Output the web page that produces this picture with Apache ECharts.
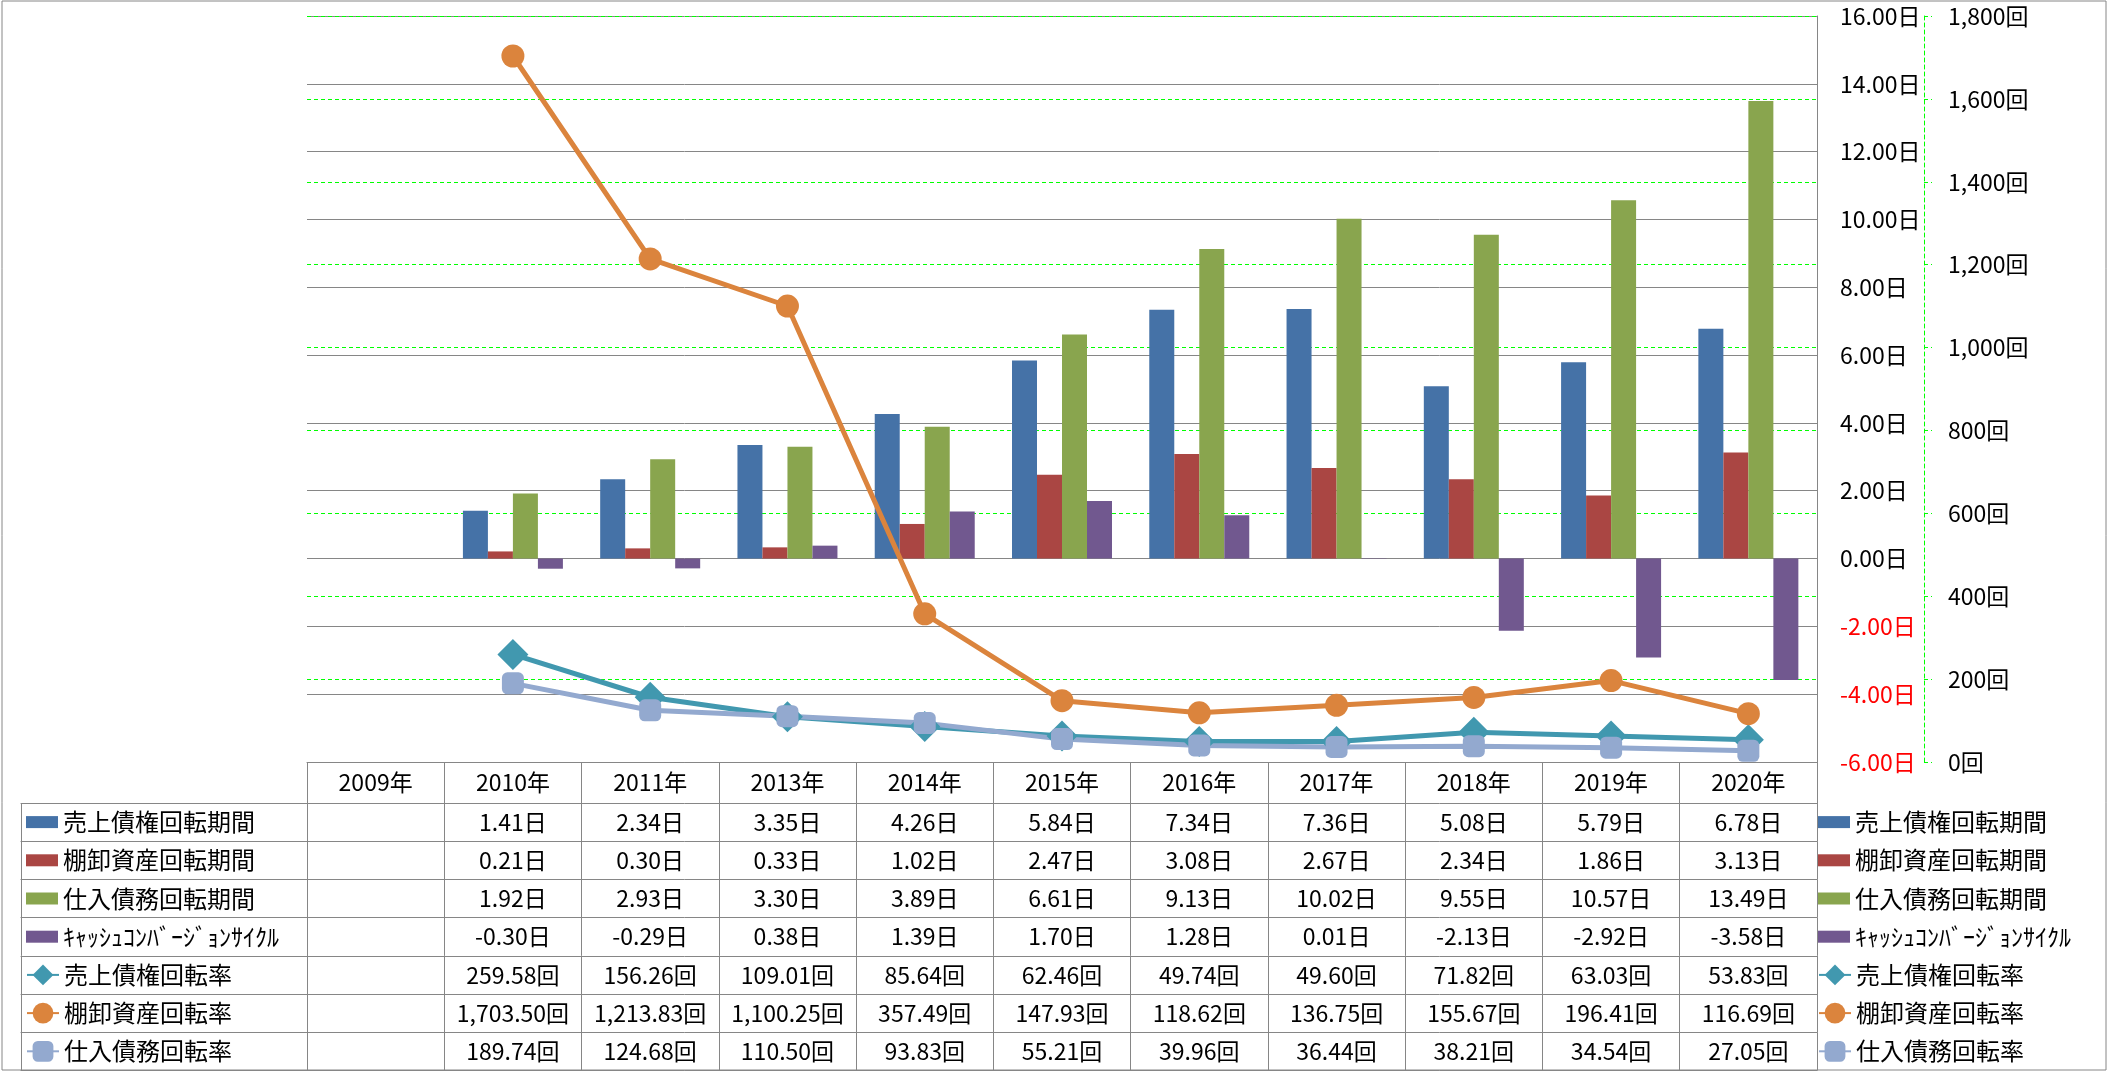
<!DOCTYPE html>
<html>
<head>
<meta charset="utf-8">
<script src="https://cdn.jsdelivr.net/npm/echarts/dist/echarts.min.js"></script>
<style>
html,body{margin:0;padding:0;background:#fff;}
#c{width:2107px;height:1071px;}
</style>
</head>
<body>
<div id="c"></div>
<script>
// ---------- data ----------
const categories = ['2009年','2010年','2011年','2013年','2014年','2015年','2016年','2017年','2018年','2019年','2020年'];
const nameArDays  = '売上債権回転期間';
const nameInvDays = '棚卸資産回転期間';
const nameApDays  = '仕入債務回転期間';
const nameCcc     = 'ｷｬｯｼｭｺﾝﾊﾞｰｼﾞｮﾝｻｲｸﾙ';
const nameArTurn  = '売上債権回転率';
const nameInvTurn = '棚卸資産回転率';
const nameApTurn  = '仕入債務回転率';

const arDays  = [null, 1.41, 2.34, 3.35, 4.26, 5.84, 7.34, 7.36, 5.08, 5.79, 6.78];
const invDays = [null, 0.21, 0.30, 0.33, 1.02, 2.47, 3.08, 2.67, 2.34, 1.86, 3.13];
const apDays  = [null, 1.92, 2.93, 3.30, 3.89, 6.61, 9.13, 10.02, 9.55, 10.57, 13.49];
const ccc     = [null, -0.30, -0.29, 0.38, 1.39, 1.70, 1.28, 0.01, -2.13, -2.92, -3.58];
const arTurn  = [null, 259.58, 156.26, 109.01, 85.64, 62.46, 49.74, 49.60, 71.82, 63.03, 53.83];
const invTurn = [null, 1703.50, 1213.83, 1100.25, 357.49, 147.93, 118.62, 136.75, 155.67, 196.41, 116.69];
const apTurn  = [null, 189.74, 124.68, 110.50, 93.83, 55.21, 39.96, 36.44, 38.21, 34.54, 27.05];

const dayAxis   = {min: -6, max: 16, interval: 2};
const countAxis = {min: 0, max: 1800, interval: 200};

// ---------- style / layout ----------
const FONT = "'Noto Sans CJK JP', 'Noto Sans', sans-serif";
const FS = 23;
const LFS = 24;
const GRID_C = '#868686';
const GREEN = '#00ff00';
const C = {ar:'#4572A7', inv:'#AA4643', ap:'#89A54E', ccc:'#71588F', arT:'#4198AF', invT:'#DB843D', apT:'#93A9CF'};
const W = 2107, H = 1071;
const GL = 307, GR = 1817, GT = 16, GB = 762;
const HEAD_H = 41, ROW_H = 38.2;
const LEG_L = 21;
const TABLE_TOP = GB + HEAD_H;

const fmtDay = v => v == null ? '' : v.toFixed(2) + '日';
const fmtCnt = v => v == null ? '' : v.toLocaleString('en-US', {minimumFractionDigits: 2, maximumFractionDigits: 2}) + '回';

const tableRows = [
  {data: arDays, fmt: fmtDay}, {data: invDays, fmt: fmtDay}, {data: apDays, fmt: fmtDay}, {data: ccc, fmt: fmtDay},
  {data: arTurn, fmt: fmtCnt}, {data: invTurn, fmt: fmtCnt}, {data: apTurn, fmt: fmtCnt}
];

const lineS = {color: GRID_C, width: 1};
const xAxes = [];
// grid 0: header row + value rows of the data table
xAxes.push({
  gridIndex: 0, type: 'category', data: categories, position: 'bottom', offset: 0,
  axisLine: {show: true, onZero: false, lineStyle: lineS},
  axisTick: {show: true, interval: 0, length: HEAD_H, lineStyle: lineS},
  axisLabel: {interval: 0, margin: HEAD_H / 2, verticalAlign: 'middle', fontSize: FS, fontFamily: FONT, color: '#000'},
  splitLine: {show: false}
});
tableRows.forEach((r, k) => {
  xAxes.push({
    gridIndex: 0, type: 'category', data: categories, position: 'bottom', offset: HEAD_H + k * ROW_H,
    axisLine: {show: true, onZero: false, lineStyle: lineS},
    axisTick: {show: true, interval: 0, length: ROW_H, lineStyle: lineS},
    axisLabel: {interval: 0, margin: ROW_H / 2, verticalAlign: 'middle', fontSize: FS, fontFamily: FONT, color: '#000',
      formatter: (v, i) => r.fmt(r.data[i])},
    splitLine: {show: false}
  });
});
xAxes.push({
  gridIndex: 0, type: 'category', data: categories, position: 'bottom', offset: HEAD_H + tableRows.length * ROW_H,
  axisLine: {show: true, onZero: false, lineStyle: lineS}, axisTick: {show: false}, axisLabel: {show: false}, splitLine: {show: false}
});
// grid 1: rules of the legend column of the table
for (let k = 0; k <= tableRows.length; k++) {
  xAxes.push({
    gridIndex: 1, type: 'category', data: ['a'], position: 'bottom', offset: HEAD_H + k * ROW_H, z: 20,
    axisLine: {show: true, onZero: false, lineStyle: lineS},
    axisTick: {show: k < tableRows.length, interval: 0, length: ROW_H, lineStyle: lineS},
    axisLabel: {show: false}, splitLine: {show: false}
  });
}
// grid 2: outer frame
xAxes.push({gridIndex: 2, type: 'category', data: ['a'], show: false});

function legendBlock(left, top, names, ih, icon) {
  return {
    orient: 'vertical', left: left, top: top, padding: 0, itemGap: 0,
    itemWidth: 32, itemHeight: ih, selectedMode: false,
    textStyle: {fontSize: LFS, fontFamily: FONT, color: '#000', lineHeight: ROW_H},
    data: names.map(n => icon ? {name: n, icon: icon} : {name: n})
  };
}
const barNames = [nameArDays, nameInvDays, nameApDays, nameCcc];
const lineNames = [nameArTurn, nameInvTurn, nameApTurn];

const barSeries = (name, data, color) => ({
  name, type: 'bar', data, xAxisIndex: 0, yAxisIndex: 0, barWidth: 25, barGap: '0%',
  itemStyle: {color}, z: 2
});
const lineSeries = (name, data, color, symbol, size) => ({
  name, type: 'line', data, xAxisIndex: 0, yAxisIndex: 1, symbol, symbolSize: size,
  lineStyle: {color, width: 5}, itemStyle: {color}, z: 5, connectNulls: false
});

const option = {
  animation: false,
  backgroundColor: '#fff',
  textStyle: {fontFamily: FONT},
  grid: [
    {left: GL, right: W - GR, top: GT, bottom: H - GB, containLabel: false},
    {left: LEG_L, right: W - GL, top: GT, bottom: H - GB, containLabel: false},
    {left: 2, right: 1, top: 1, bottom: 1, containLabel: false, show: true, borderColor: GRID_C, borderWidth: 1, backgroundColor: 'transparent'}
  ],
  xAxis: xAxes,
  yAxis: [
    {gridIndex: 0, type: 'value', position: 'right', min: dayAxis.min, max: dayAxis.max, interval: dayAxis.interval,
     axisLine: {show: true, onZero: false, lineStyle: lineS}, axisTick: {show: false},
     splitLine: {show: true, lineStyle: lineS},
     axisLabel: {margin: 23, fontSize: FS, fontFamily: FONT,
       color: v => Number(v) < 0 ? '#ff0000' : '#000',
       formatter: v => v.toFixed(2) + '日'}},
    {gridIndex: 0, type: 'value', position: 'right', offset: 107, min: countAxis.min, max: countAxis.max, interval: countAxis.interval,
     axisLine: {show: true, onZero: false, lineStyle: {color: GREEN, width: 1, type: [4, 3]}},
     axisTick: {show: true, length: 8, lineStyle: {color: GREEN, width: 1, type: [4, 3]}},
     splitLine: {show: true, lineStyle: {color: GREEN, width: 1, type: [4, 3]}},
     axisLabel: {margin: 24, fontSize: FS, fontFamily: FONT, color: '#000',
       formatter: v => v.toLocaleString('en-US') + '回'}},
    {gridIndex: 1, type: 'value', show: false},
    {gridIndex: 2, type: 'value', show: false}
  ],
  legend: [
    legendBlock(LEG_L + 5, TABLE_TOP, barNames, 12, 'rect'),
    legendBlock(LEG_L + 5, TABLE_TOP + 4 * ROW_H, lineNames, 26, null),
    legendBlock(GR + 1, TABLE_TOP, barNames, 12, 'rect'),
    legendBlock(GR + 1, TABLE_TOP + 4 * ROW_H, lineNames, 26, null)
  ],
  series: [
    barSeries(nameArDays, arDays, C.ar),
    barSeries(nameInvDays, invDays, C.inv),
    barSeries(nameApDays, apDays, C.ap),
    barSeries(nameCcc, ccc, C.ccc),
    lineSeries(nameArTurn, arTurn, C.arT, 'diamond', 31),
    lineSeries(nameInvTurn, invTurn, C.invT, 'circle', 23),
    lineSeries(nameApTurn, apTurn, C.apT, 'roundRect', 22)
  ]
};
const chart = echarts.init(document.getElementById('c'), null, {renderer: 'canvas'});
chart.setOption(option);
</script>
</body>
</html>
